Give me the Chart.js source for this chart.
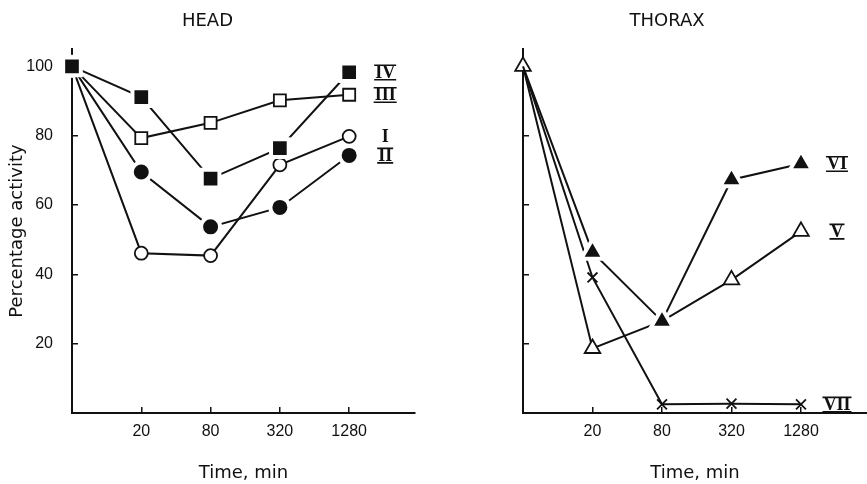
<!DOCTYPE html>
<html>
<head>
<meta charset="utf-8">
<title>Percentage activity – head and thorax</title>
<script src="https://cdn.jsdelivr.net/npm/chart.js@4.4.1/dist/chart.umd.min.js"></script>
<style>
  html, body { margin: 0; padding: 0; background: #fff; }
  #wrap { position: relative; width: 867px; height: 484px; overflow: hidden; }
  .panel { position: absolute; top: 0; height: 484px; }
  #head-box { left: 0; width: 440px; }
  #thorax-box { left: 467px; width: 400px; }
</style>
</head>
<body>
<div id="wrap">
  <div class="panel" id="head-box"><canvas id="headChart" width="440" height="484"></canvas></div>
  <div class="panel" id="thorax-box"><canvas id="thoraxChart" width="400" height="484"></canvas></div>
</div>
<script>
// ── Data ──────────────────────────────────────────────────────
// x axis: time points, evenly spaced (log scale), first one sits on the y axis
const times  = [0, 20, 80, 320, 1280];
const yTicks = [20, 40, 60, 80, 100];

// HEAD
const headI   = [100, 46.1, 45.4, 71.6, 79.8];
const headII  = [100, 69.5, 53.7, 59.3, 74.3];
const headIII = [100, 79.3, 83.7, 90.2, 91.8];
const headIV  = [100, 91.1, 67.6, 76.4, 98.3];

// THORAX
const thoraxV   = [100, 18.6, 26.5, 38.4, 52.4];
const thoraxVI  = [100, 46.4, 26.5, 67.3, 71.9];
const thoraxVII = [100, 39.1,  2.5,  2.7,  2.5];

// ── Helpers ───────────────────────────────────────────────────
const INK = '#111';
const tickFont  = { family: '"Liberation Sans", Arial, sans-serif', size: 16 };
const titleFont = { family: '"DejaVu Sans", sans-serif', size: 18, weight: 'normal' };

const pts = vals => vals.map((y, i) => ({ x: i, y }));
const hideFirst = r => ctx => (ctx.dataIndex === 0 ? 0 : r);

function series(label, vals, marker) {
    return Object.assign({
        label,
        data: pts(vals),
        borderColor: INK,
        borderWidth: 2,
        tension: 0,
        fill: false,
        clip: false,
    }, marker);
}

// filled marker: black body with a white halo that cuts the lines
const filled = (style, r) => ({
    pointStyle: style, pointRadius: r,
    pointBackgroundColor: INK, pointBorderColor: '#fff', pointBorderWidth: 4,
});
const open = (style, r) => ({
    pointStyle: style, pointRadius: r,
    pointBackgroundColor: '#fff', pointBorderColor: INK, pointBorderWidth: 1.8,
});

function xScale(maxPos) {
    return {
        type: 'linear', min: 0, max: maxPos,
        afterBuildTicks: s => { s.ticks = times.slice(1).map((t, i) => ({ value: i + 1 })); },
        afterFit: s => { s.height = 71; },
        ticks: { callback: v => times[v], font: tickFont, color: INK, padding: 15, maxRotation: 0, autoSkip: false },
        grid: { drawOnChartArea: false, tickLength: -6, color: INK, lineWidth: 1.5 },
        border: { color: INK, width: 2 },
        title: { display: true, text: 'Time, min', font: titleFont, color: INK, padding: { top: 3, bottom: 0 } },
    };
}

function yScale(width, withLabels) {
    return {
        type: 'linear', min: 0, max: 105,
        afterBuildTicks: s => { s.ticks = yTicks.map(v => ({ value: v })); },
        afterFit: s => { s.width = width; },
        ticks: { callback: v => (withLabels ? v : ''), font: tickFont, color: INK, padding: 25 },
        grid: { drawOnChartArea: false, tickLength: -6, color: INK, lineWidth: 1.5 },
        border: { color: INK, width: 2 },
        title: withLabels
            ? { display: true, text: 'Percentage activity', font: titleFont, color: INK, padding: { top: 7, bottom: 0 } }
            : { display: false },
    };
}

// roman numeral next to the last point of every curve
const seriesLabels = {
    id: 'seriesLabels',
    afterDatasetsDraw(chart) {
        const ctx = chart.ctx;
        ctx.save();
        ctx.font = 'bold 18px "Liberation Serif", serif';
        ctx.fillStyle = INK;
        ctx.strokeStyle = INK;
        ctx.lineWidth = 1.7;
        ctx.textAlign = 'center';
        ctx.textBaseline = 'middle';
        chart.data.datasets.forEach((ds, i) => {
            const els = chart.getDatasetMeta(i).data;
            const last = els[els.length - 1];
            const x = last.x + 36, y = last.y;
            ctx.fillText(ds.label, x, y + 1);
            if (ds.label !== 'I') {
                const w = ctx.measureText(ds.label).width + 2;
                ctx.beginPath();
                ctx.moveTo(x - w / 2, y - 7);   ctx.lineTo(x + w / 2, y - 7);
                ctx.moveTo(x - w / 2, y + 7.5); ctx.lineTo(x + w / 2, y + 7.5);
                ctx.stroke();
            }
        });
        ctx.restore();
    }
};

function baseOptions(heading, padRight, xMax, yWidth, yLabels) {
    return {
        responsive: false,
        animation: false,
        devicePixelRatio: 1,
        events: [],
        layout: { autoPadding: false, padding: { left: 0, right: padRight, top: 0, bottom: 0 } },
        plugins: {
            legend: { display: false },
            tooltip: { enabled: false },
            title: {
                display: true, text: heading, font: titleFont, color: INK,
                padding: { top: 11, bottom: 16.4 },
            },
        },
        scales: { x: xScale(xMax), y: yScale(yWidth, yLabels) },
    };
}

// ── HEAD ──────────────────────────────────────────────────────
new Chart(document.getElementById('headChart'), {
    type: 'line',
    data: {
        datasets: [
            series('IV',  headIV,  filled('rect', 12.5)),
            series('III', headIII, open('rect', 8.5)),
            series('II',  headII,  filled('circle', 9.5)),
            series('I',   headI,   open('circle', 6.5)),
        ]
    },
    options: baseOptions('HEAD', 25, 4.95, 72, true),
    plugins: [seriesLabels],
});

// ── THORAX ────────────────────────────────────────────────────
const vi  = series('VI',  thoraxVI,  filled('triangle', 13));
vi.pointRadius = hideFirst(13);
const vii = series('VII', thoraxVII, open('crossRot', 7));
vii.pointRadius = hideFirst(7);

new Chart(document.getElementById('thoraxChart'), {
    type: 'line',
    data: {
        datasets: [
            vi,
            series('V', thoraxV, open('triangle', 9)),
            vii,
        ]
    },
    options: baseOptions('THORAX', 0, 4.95, 56, false),
    plugins: [seriesLabels],
});
</script>
</body>
</html>
